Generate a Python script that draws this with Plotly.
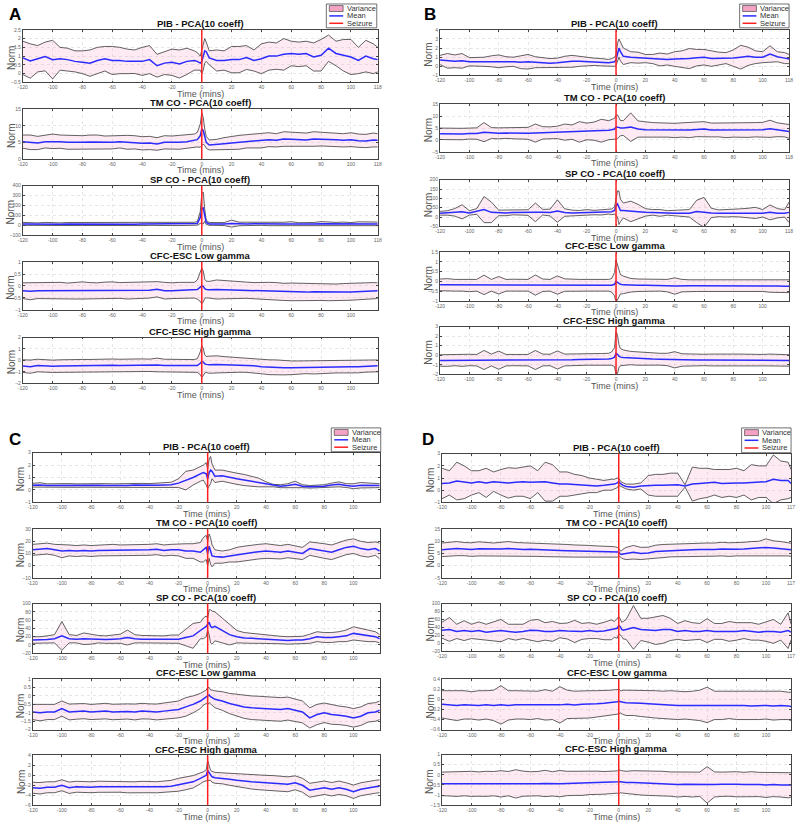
import plotly.graph_objects as go

W, H = 800, 826

# ---------------- time axes (minutes) ----------------
T_PRE = [-120, -115, -110, -105, -100, -95, -90, -85, -80, -75, -70, -65,
         -60, -55, -50, -45, -40, -35, -30, -25, -20, -15, -10, -5]
T_MID = [-3, -1, 0, 1, 2, 3]
T_POST_ABC = [5, 10, 15, 20, 25, 30, 35, 40, 45, 50, 55, 60,
              65, 70, 75, 80, 85, 90, 95, 100, 105, 110, 115, 118]
T_POST_D = [5, 10, 15, 20, 25, 30, 35, 40, 45, 50, 55, 60,
            65, 70, 75, 80, 85, 90, 95, 100, 105, 110, 115, 117]
TIME_ABC = T_PRE + T_MID + T_POST_ABC
TIME_D = T_PRE + T_MID + T_POST_D

TITLES = ["PIB - PCA(10 coeff)", "TM CO - PCA(10 coeff)", "SP CO - PCA(10 coeff)",
          "CFC-ESC Low gamma", "CFC-ESC High gamma"]
LEGEND_LABELS = ["Variance", "Mean", "Seizure"]
X_TICKS = [-120, -100, -80, -60, -40, -20, 0, 20, 40, 60, 80, 100]

# ---------------- Panel A ----------------
A_PIB_mean = [0.9, 0.72, 0.85, 0.98, 0.8, 0.85, 0.8, 0.7, 0.65, 0.6, 0.75, 0.85, 0.75, 0.75, 0.7, 0.68, 0.7, 0.8, 0.45, 0.6, 0.65, 0.55, 0.7, 0.75,
              0.7, 0.6, 0.7, 1.0, 1.3, 1.25,
              0.9, 0.75, 0.75, 0.8, 0.8, 0.92, 0.75, 0.85, 1.0, 1.0, 1.1, 1.15, 1.1, 1.15, 0.95, 1.05, 1.45, 1.15, 1.05, 0.95, 0.75, 1.0, 0.85, 0.8]
A_PIB_sd = [0.95, 0.98, 0.75, 0.82, 1.1, 0.65, 0.65, 0.6, 0.65, 0.75, 0.75, 0.7, 0.8, 0.75, 0.7, 0.67, 0.8, 0.8, 0.65, 0.65, 0.75, 0.8, 0.75, 0.55,
            0.5, 0.4, 0.7, 0.8, 0.7, 0.55,
            0.4, 0.6, 0.55, 0.75, 0.75, 0.68, 0.6, 0.85, 0.8, 0.75, 0.9, 0.7, 0.7, 0.7, 0.8, 0.9, 0.75, 0.7, 0.9, 1.0, 0.75, 0.9, 0.85, 0.7]
A_TM_mean = [5.2, 5.0, 4.8, 5.2, 5.3, 5.2, 5.0, 4.9, 5.0, 5.1, 5.0, 4.9, 5.0, 5.2, 5.0, 5.0, 4.7, 4.8, 4.5, 5.0, 4.9, 5.0, 5.2, 5.5,
             5.8, 7.0, 9.0, 8.5, 6.5, 5.0,
             4.2, 4.3, 4.6, 4.8, 5.0, 5.3, 5.5, 5.5, 5.8, 5.6, 6.0, 5.9, 5.8, 5.7, 6.0, 6.0, 5.9, 5.8, 5.6, 5.8, 5.5, 5.4, 5.7, 5.6]
A_TM_sd = [2.0, 2.2, 2.0, 1.9, 2.2, 2.0, 2.1, 2.0, 2.0, 2.1, 2.2, 2.0, 2.0, 1.9, 2.1, 2.0, 2.0, 2.0, 1.9, 2.0, 2.0, 2.1, 2.0, 2.0,
           2.2, 3.5, 5.0, 4.0, 2.5, 1.8,
           1.5, 1.6, 1.8, 2.0, 2.1, 2.0, 2.1, 2.2, 2.1, 2.0, 2.2, 2.1, 2.0, 2.1, 2.2, 2.1, 2.0, 2.1, 2.0, 2.1, 2.0, 2.0, 2.1, 2.0]
A_SP_mean = [15, 13, 12, 14, 13, 12, 14, 13, 12, 14, 15, 13, 12, 14, 13, 12, 13, 14, 12, 13, 14, 12, 13, 15,
             20, 80, 170, 175, 100, 30,
             15, 12, 13, 18, 14, 15, 16, 14, 13, 15, 14, 15, 12, 14, 13, 16, 15, 14, 15, 13, 16, 15, 14, 15]
A_SP_sd = [15, 14, 13, 16, 14, 13, 15, 16, 14, 15, 17, 15, 14, 15, 14, 16, 15, 14, 15, 15, 16, 14, 15, 16,
           18, 60, 150, 160, 60, 20,
           14, 13, 15, 35, 18, 17, 15, 14, 16, 18, 17, 22, 15, 14, 16, 22, 18, 16, 18, 15, 20, 17, 16, 18]
A_LG_mean = [-0.2, -0.22, -0.2, -0.2, -0.19, -0.2, -0.21, -0.2, -0.19, -0.2, -0.2, -0.19, -0.18, -0.19, -0.2, -0.2, -0.19, -0.18, -0.14, -0.2, -0.2, -0.19, -0.18, -0.18,
             -0.15, -0.05, 0.0, -0.02, -0.12, -0.15,
             -0.16, -0.15, -0.16, -0.17, -0.17, -0.18, -0.2, -0.2, -0.22, -0.24, -0.25, -0.25, -0.25, -0.26, -0.24, -0.25, -0.26, -0.27, -0.26, -0.25, -0.24, -0.22, -0.2, -0.2]
A_LG_sd = [0.33, 0.36, 0.33, 0.34, 0.36, 0.35, 0.33, 0.35, 0.36, 0.34, 0.33, 0.35, 0.35, 0.33, 0.35, 0.34, 0.34, 0.33, 0.32, 0.35, 0.33, 0.34, 0.34, 0.33,
           0.4, 0.6, 0.75, 0.65, 0.4, 0.35,
           0.35, 0.4, 0.38, 0.36, 0.35, 0.34, 0.34, 0.36, 0.37, 0.38, 0.36, 0.37, 0.36, 0.36, 0.35, 0.36, 0.36, 0.35, 0.36, 0.35, 0.34, 0.35, 0.34, 0.33]
A_HG_mean = [-0.5, -0.55, -0.45, -0.5, -0.52, -0.5, -0.48, -0.5, -0.49, -0.47, -0.45, -0.44, -0.42, -0.45, -0.43, -0.44, -0.42, -0.43, -0.4, -0.45, -0.46, -0.45, -0.47, -0.48,
             -0.45, -0.25, -0.1, -0.15, -0.3, -0.35,
             -0.38, -0.35, -0.37, -0.4, -0.42, -0.45, -0.48, -0.55, -0.6, -0.62, -0.65, -0.65, -0.63, -0.6, -0.62, -0.6, -0.58, -0.55, -0.56, -0.55, -0.55, -0.5, -0.5, -0.48]
A_HG_sd = [0.55, 0.58, 0.55, 0.56, 0.54, 0.55, 0.56, 0.55, 0.57, 0.55, 0.56, 0.55, 0.54, 0.55, 0.56, 0.55, 0.55, 0.54, 0.6, 0.55, 0.56, 0.55, 0.55, 0.55,
           0.6, 1.0, 1.4, 1.2, 0.8, 0.7,
           0.75, 0.75, 0.7, 0.68, 0.62, 0.6, 0.6, 0.62, 0.65, 0.66, 0.62, 0.6, 0.58, 0.56, 0.57, 0.55, 0.54, 0.55, 0.54, 0.55, 0.54, 0.53, 0.52, 0.52]

# ---------------- Panel B ----------------
B_PIB_mean = [0.7, 0.6, 0.55, 0.6, 0.5, 0.5, 0.5, 0.55, 0.55, 0.5, 0.5, 0.45, 0.5, 0.45, 0.4, 0.35, 0.4, 0.5, 0.55, 0.55, 0.5, 0.5, 0.45, 0.4,
              0.45, 0.5, 0.7, 1.5, 2.0, 1.6,
              1.1, 1.0, 0.95, 0.85, 0.8, 0.75, 0.75, 0.8, 0.8, 0.85, 0.95, 1.0, 0.85, 0.85, 0.9, 0.9, 1.0, 1.1, 1.0, 1.0, 1.35, 1.05, 0.9, 0.8]
B_PIB_sd = [0.5, 0.8, 0.7, 0.8, 0.45, 0.45, 0.5, 0.6, 0.7, 0.55, 0.5, 0.7, 0.8, 0.6, 0.55, 0.5, 0.5, 0.6, 0.65, 0.55, 0.45, 0.4, 0.4, 0.35,
            0.4, 0.5, 0.6, 1.0, 1.0, 1.0,
            0.9, 0.6, 0.6, 0.45, 0.5, 0.7, 0.6, 0.8, 0.9, 1.1, 0.9, 0.85, 0.85, 0.7, 0.6, 0.9, 1.3, 1.0, 0.7, 0.6, 0.9, 0.55, 0.6, 0.5]
B_TM_mean = [2.6, 2.5, 2.6, 2.5, 2.7, 2.7, 3.3, 2.9, 2.8, 2.9, 2.8, 2.8, 2.8, 2.9, 3.0, 3.0, 3.2, 3.3, 3.3, 3.4, 3.6, 3.7, 3.9, 4.1,
             4.3, 4.6, 5.4, 5.5, 5.3, 5.0,
             5.0, 5.4, 4.6, 4.3, 4.3, 4.2, 4.1, 4.0, 4.2, 4.2, 4.4, 4.6, 4.2, 4.2, 4.0, 4.1, 4.0, 4.1, 4.3, 4.3, 4.7, 4.3, 4.0, 3.6]
B_TM_sd = [2.4, 2.4, 2.3, 2.4, 2.3, 2.4, 4.0, 2.3, 2.3, 2.2, 2.3, 2.4, 2.5, 3.8, 2.6, 2.5, 2.6, 3.4, 3.0, 4.3, 3.5, 3.8, 4.8, 4.0,
           4.2, 4.5, 5.0, 5.0, 4.0, 3.2,
           3.1, 6.0, 3.4, 3.2, 3.0, 3.0, 2.9, 3.0, 3.0, 3.2, 3.0, 3.1, 2.9, 2.9, 3.0, 2.9, 3.0, 3.0, 3.0, 3.1, 3.6, 2.9, 2.7, 2.9]
B_SP_mean = [20, 22, 25, 28, 22, 30, 40, 25, 22, 22, 24, 23, 24, 25, 26, 24, 32, 24, 22, 23, 25, 24, 25, 28,
             28, 35, 60, 70, 50, 35,
             35, 30, 28, 25, 25, 22, 22, 20, 22, 20, 30, 25, 22, 20, 20, 20, 22, 22, 22, 20, 25, 20, 20, 25]
B_SP_sd = [10, 12, 20, 38, 12, 15, 70, 55, 15, 15, 12, 14, 15, 50, 15, 18, 60, 20, 15, 12, 15, 12, 14, 12,
           15, 20, 50, 70, 90, 60,
           40, 55, 40, 20, 15, 18, 12, 14, 16, 20, 60, 80, 25, 18, 20, 18, 22, 25, 30, 20, 40, 25, 20, 55]
B_LG_mean = [-0.18, -0.18, -0.2, -0.2, -0.2, -0.2, -0.18, -0.2, -0.2, -0.2, -0.19, -0.2, -0.2, -0.19, -0.2, -0.2, -0.19, -0.19, -0.2, -0.2, -0.2, -0.2, -0.2, -0.2,
             -0.2, -0.15, 0.0, -0.05, -0.12, -0.15,
             -0.18, -0.2, -0.2, -0.2, -0.2, -0.2, -0.22, -0.24, -0.22, -0.22, -0.22, -0.22, -0.22, -0.22, -0.21, -0.21, -0.22, -0.22, -0.23, -0.22, -0.24, -0.24, -0.25, -0.25]
B_LG_sd = [0.3, 0.32, 0.3, 0.3, 0.33, 0.3, 0.5, 0.3, 0.45, 0.3, 0.3, 0.3, 0.3, 0.52, 0.32, 0.3, 0.47, 0.32, 0.3, 0.3, 0.3, 0.3, 0.3, 0.3,
           0.35, 0.6, 1.1, 0.9, 0.7, 0.5,
           0.45, 0.35, 0.32, 0.32, 0.3, 0.3, 0.32, 0.42, 0.32, 0.3, 0.3, 0.3, 0.3, 0.3, 0.3, 0.3, 0.3, 0.3, 0.3, 0.3, 0.32, 0.33, 0.32, 0.33]
B_HG_mean = [-0.55, -0.55, -0.5, -0.52, -0.5, -0.52, -0.5, -0.5, -0.52, -0.52, -0.5, -0.5, -0.52, -0.5, -0.5, -0.5, -0.5, -0.5, -0.48, -0.45, -0.45, -0.45, -0.42, -0.4,
             -0.35, -0.2, 0.2, 0.1, -0.1, -0.2,
             -0.25, -0.3, -0.35, -0.4, -0.4, -0.42, -0.45, -0.48, -0.5, -0.5, -0.5, -0.5, -0.5, -0.5, -0.52, -0.5, -0.5, -0.5, -0.5, -0.52, -0.5, -0.5, -0.55, -0.55]
B_HG_sd = [0.6, 0.62, 0.6, 0.65, 0.6, 0.6, 1.0, 0.62, 0.95, 0.6, 0.6, 0.6, 0.6, 1.0, 0.62, 0.6, 0.95, 0.62, 0.6, 0.6, 0.6, 0.6, 0.6, 0.6,
           0.7, 1.0, 2.3, 2.0, 1.2, 0.9,
           0.8, 0.7, 0.7, 0.65, 0.62, 0.62, 0.65, 0.85, 0.65, 0.62, 0.62, 0.6, 0.62, 0.6, 0.62, 0.62, 0.62, 0.6, 0.62, 0.6, 0.62, 0.62, 0.6, 0.6]

# ---------------- Panel C ----------------
C_PIB_mean = [0.38, 0.4, 0.35, 0.36, 0.35, 0.36, 0.35, 0.36, 0.35, 0.38, 0.36, 0.35, 0.36, 0.36, 0.4, 0.38, 0.36, 0.38, 0.4, 0.42, 0.55, 0.75, 1.0, 1.3,
              1.4, 1.3, 0.9, 1.4, 1.6, 1.5,
              1.1, 1.15, 1.0, 0.9, 0.8, 0.7, 0.6, 0.45, 0.35, 0.3, 0.35, 0.45, 0.3, 0.25, 0.28, 0.3, 0.4, 0.45, 0.35, 0.3, 0.38, 0.35, 0.36, 0.35]
C_PIB_sd = [0.15, 0.18, 0.14, 0.15, 0.14, 0.15, 0.14, 0.14, 0.15, 0.18, 0.15, 0.14, 0.15, 0.15, 0.16, 0.15, 0.15, 0.16, 0.18, 0.2, 0.35, 0.75, 0.6, 0.6,
            0.6, 0.9, 0.8, 1.1, 1.1, 0.6,
            0.5, 0.45, 0.45, 0.45, 0.45, 0.42, 0.35, 0.2, 0.1, 0.12, 0.15, 0.25, 0.12, 0.1, 0.1, 0.12, 0.15, 0.2, 0.15, 0.2, 0.22, 0.2, 0.18, 0.15]
C_TM_mean = [13, 13.5, 14, 13, 12, 12.5, 12, 12.5, 12, 12.5, 12.5, 13, 12.5, 12.5, 13, 13, 13, 13.5, 12.5, 13, 13, 12, 12, 11,
             13, 15, 10, 16, 12, 8,
             7.5, 7, 8, 9, 10, 11, 11.5, 12, 11.5, 11, 12, 11, 10, 14, 13, 12, 11, 13, 15, 16, 14, 13, 14, 12]
C_TM_sd = [4.5, 4.5, 4.5, 4.5, 5.5, 4.5, 4.5, 4.5, 4.5, 4.5, 4.5, 4.5, 4.5, 4.5, 4.5, 4.5, 4.5, 4.5, 4.5, 4.5, 5, 6, 6, 8,
           10, 10, 10, 10, 11, 9,
           5.5, 5, 5, 6, 6, 6, 6, 6, 5.5, 5.5, 5.5, 5.5, 5, 5.5, 6, 6, 6, 6, 6, 6, 6, 6, 5.5, 6.5]
C_SP_mean = [12, 12, 13, 15, 22, 15, 14, 15, 14, 14, 13, 14, 15, 18, 15, 14, 14, 14, 13, 14, 14, 18, 22, 35,
             40, 45, 50, 55, 45, 42,
             45, 35, 25, 20, 17, 16, 15, 14, 13, 12, 11, 12, 12, 15, 20, 18, 18, 20, 22, 28, 25, 22, 20, 15]
C_SP_sd = [8, 8, 9, 10, 35, 10, 9, 14, 12, 9, 9, 10, 11, 18, 10, 9, 9, 9, 9, 10, 10, 20, 30, 20,
           25, 25, 15, 30, 40, 40,
           35, 30, 25, 15, 13, 12, 11, 10, 10, 9, 9, 9, 9, 11, 12, 12, 12, 12, 14, 16, 15, 14, 12, 10]
C_LG_mean = [-0.95, -1.0, -0.95, -0.95, -0.75, -0.95, -0.92, -0.9, -0.95, -0.92, -0.9, -0.95, -0.92, -0.92, -0.95, -0.9, -0.92, -0.95, -0.9, -0.85, -0.8, -0.65, -0.5, -0.3,
             -0.15, -0.05, 0.0, 0.05, -0.05, -0.1,
             -0.2, -0.3, -0.45, -0.55, -0.65, -0.7, -0.72, -0.75, -0.78, -0.8, -0.75, -0.85, -0.95, -1.3, -1.1, -1.0, -1.1, -1.15, -1.2, -1.3, -1.2, -1.0, -0.95, -0.85]
C_LG_sd = [0.45, 0.48, 0.45, 0.45, 0.45, 0.47, 0.46, 0.45, 0.45, 0.47, 0.46, 0.46, 0.45, 0.45, 0.47, 0.46, 0.45, 0.47, 0.48, 0.5, 0.5, 0.55, 0.5, 0.45,
           0.4, 0.4, 0.5, 0.45, 0.4, 0.45,
           0.5, 0.55, 0.6, 0.65, 0.68, 0.7, 0.7, 0.7, 0.68, 0.7, 0.68, 0.65, 0.65, 0.6, 0.6, 0.58, 0.58, 0.55, 0.55, 0.55, 0.55, 0.55, 0.55, 0.55]
C_HG_mean = [-2.5, -2.6, -2.4, -2.4, -2.0, -2.5, -2.3, -2.4, -2.4, -2.3, -2.3, -2.4, -2.3, -2.4, -2.4, -2.3, -2.4, -2.4, -2.3, -2.2, -1.9, -1.6, -1.3, -0.6,
             -0.3, 0.0, 1.0, 0.5, 0.0, -0.3,
             -0.5, -0.6, -0.8, -1.0, -1.2, -1.3, -1.4, -1.5, -1.55, -1.6, -1.8, -1.5, -2.0, -3.0, -2.7, -2.5, -2.8, -2.5, -2.8, -3.3, -2.8, -2.5, -2.3, -2.2]
C_HG_sd = [1.1, 1.15, 1.1, 1.1, 1.1, 1.15, 1.1, 1.1, 1.1, 1.12, 1.1, 1.1, 1.1, 1.12, 1.1, 1.1, 1.1, 1.12, 1.15, 1.2, 1.3, 1.3, 1.25, 1.1,
           1.0, 1.1, 2.0, 1.5, 1.0, 1.1,
           1.1, 1.1, 1.2, 1.3, 1.4, 1.45, 1.5, 1.5, 1.5, 1.5, 1.5, 1.4, 1.4, 1.4, 1.35, 1.35, 1.35, 1.35, 1.3, 1.35, 1.3, 1.3, 1.3, 1.3]

# ---------------- Panel D ----------------
D_PIB_mean = [0.55, 0.6, 0.75, 0.65, 0.6, 0.7, 0.6, 0.7, 0.65, 0.6, 0.65, 0.7, 0.65, 0.7, 0.7, 0.6, 0.5, 0.5, 0.45, 0.45, 0.4, 0.35, 0.4, 0.45,
              0.5, 0.6, 0.7, 0.55, 0.45, 0.4,
              0.3, 0.25, 0.35, 0.4, 0.4, 0.4, 0.45, 0.45, 0.35, 0.5, 0.55, 0.6, 0.65, 0.55, 0.6, 0.6, 0.6, 0.65, 0.7, 0.7, 0.9, 0.8, 0.8, 0.55]
D_PIB_sd = [1.25, 1.0, 1.55, 1.35, 1.0, 0.9, 1.2, 0.8, 1.05, 1.25, 1.15, 1.2, 1.35, 0.9, 1.6, 1.5, 1.0, 1.0, 0.85, 0.75, 0.6, 0.55, 0.4, 0.45,
            0.4, 0.4, 0.3, 0.2, 0.2, 0.2,
            0.2, 0.25, 0.25, 0.8, 0.9, 0.9, 0.95, 0.95, 0.1, 1.4, 1.25, 1.2, 1.05, 1.15, 1.1, 1.2, 1.0, 1.45, 1.3, 1.3, 2.0, 1.6, 1.5, 1.15]
D_TM_mean = [6.5, 6.8, 7.0, 6.8, 6.6, 6.9, 6.8, 6.6, 6.8, 7.0, 6.7, 6.6, 6.7, 6.5, 6.4, 6.3, 6.2, 6.1, 6.0, 6.0, 5.9, 5.8, 5.8, 5.7,
             5.6, 5.5, 5.6, 4.8, 4.6, 4.8,
             5.0, 5.5, 5.0, 5.2, 5.8, 6.0, 6.2, 6.4, 6.4, 6.5, 6.6, 6.5, 6.6, 6.8, 6.6, 6.7, 6.8, 7.0, 7.0, 7.5, 7.2, 7.0, 6.8, 6.5]
D_TM_sd = [2.8, 2.8, 2.9, 2.7, 2.8, 2.9, 2.8, 2.7, 2.8, 2.9, 2.8, 2.8, 2.8, 2.7, 2.7, 2.7, 2.6, 2.6, 2.5, 2.5, 2.4, 2.3, 2.3, 2.2,
           2.2, 2.0, 1.5, 1.3, 1.5, 2.0,
           2.5, 2.8, 2.5, 2.4, 2.6, 2.7, 2.6, 2.8, 2.8, 2.7, 2.8, 2.8, 2.7, 2.8, 2.8, 2.7, 2.8, 2.9, 3.0, 3.5, 3.0, 2.9, 2.8, 2.7]
D_SP_mean = [33, 35, 30, 32, 30, 32, 28, 30, 32, 30, 28, 30, 33, 32, 30, 30, 32, 31, 30, 30, 32, 30, 31, 34,
             35, 38, 45, 42, 35, 33,
             35, 40, 35, 33, 32, 35, 35, 30, 32, 30, 30, 32, 30, 30, 30, 30, 32, 30, 28, 30, 30, 28, 32, 28]
D_SP_sd = [20, 30, 18, 25, 18, 22, 20, 24, 28, 18, 20, 18, 25, 28, 22, 25, 18, 20, 28, 20, 20, 18, 22, 25,
           20, 25, 22, 20, 18, 22,
           25, 55, 28, 30, 35, 35, 28, 20, 25, 22, 20, 30, 20, 20, 25, 22, 20, 22, 20, 25, 30, 20, 45, 20]
D_LG_mean = [-0.1, -0.11, -0.12, -0.11, -0.12, -0.12, -0.11, -0.12, -0.11, -0.12, -0.11, -0.11, -0.12, -0.11, -0.11, -0.12, -0.11, -0.1, -0.11, -0.1, -0.1, -0.09, -0.08, -0.07,
             -0.06, -0.05, -0.04, -0.05, -0.06, -0.06,
             -0.07, -0.07, -0.08, -0.09, -0.1, -0.11, -0.11, -0.12, -0.12, -0.12, -0.12, -0.11, -0.12, -0.12, -0.11, -0.12, -0.12, -0.13, -0.12, -0.12, -0.13, -0.12, -0.13, -0.14]
D_LG_sd = [0.27, 0.28, 0.3, 0.28, 0.27, 0.29, 0.28, 0.3, 0.38, 0.29, 0.28, 0.28, 0.28, 0.27, 0.3, 0.28, 0.36, 0.28, 0.27, 0.27, 0.27, 0.26, 0.25, 0.25,
           0.25, 0.24, 0.25, 0.22, 0.23, 0.24,
           0.25, 0.25, 0.26, 0.27, 0.27, 0.27, 0.28, 0.28, 0.27, 0.28, 0.3, 0.35, 0.28, 0.28, 0.27, 0.28, 0.28, 0.28, 0.28, 0.27, 0.28, 0.28, 0.27, 0.28]
D_HG_mean = [-0.45, -0.46, -0.45, -0.44, -0.45, -0.46, -0.45, -0.44, -0.45, -0.44, -0.45, -0.44, -0.45, -0.44, -0.43, -0.45, -0.44, -0.43, -0.42, -0.42, -0.4, -0.4, -0.4, -0.38,
             -0.37, -0.36, -0.35, -0.34, -0.35, -0.36,
             -0.38, -0.38, -0.4, -0.42, -0.43, -0.45, -0.46, -0.48, -0.47, -0.48, -0.47, -0.5, -0.48, -0.47, -0.46, -0.47, -0.48, -0.47, -0.48, -0.5, -0.48, -0.5, -0.52, -0.5]
D_HG_sd = [0.58, 0.6, 0.62, 0.6, 0.62, 0.6, 0.62, 0.6, 0.65, 0.6, 0.7, 0.62, 0.6, 0.6, 0.65, 0.6, 0.65, 0.6, 0.6, 0.6, 0.58, 0.58, 0.56, 0.55,
           0.55, 0.55, 0.6, 0.55, 0.55, 0.55,
           0.55, 0.58, 0.6, 0.6, 0.6, 0.62, 0.6, 0.62, 0.6, 0.62, 0.6, 0.9, 0.62, 0.6, 0.6, 0.62, 0.6, 0.62, 0.6, 0.62, 0.6, 0.6, 0.62, 0.6]

# ---------------- layout description ----------------
PANELS = {
    "A": dict(time=TIME_ABC, xmax=118, left=18, right=377,
              rows=[(27, 80), (107, 157), (184, 234), (261, 309), (337, 383)],
              last_label=[True, True, True, False, False],
              letter=(10, 12), legend=(325, 1, 376, 25)),
    "B": dict(time=TIME_ABC, xmax=118, left=440, right=793,
              rows=[(27, 73), (102, 150), (178, 225), (251, 300), (326, 374)],
              last_label=[True, True, True, False, False],
              letter=(430, 12), legend=(743, 1, 793, 25)),
    "C": dict(time=TIME_ABC, xmax=118, left=28, right=379,
              rows=[(453, 503), (530, 579), (605, 655), (681, 732), (758, 808)],
              last_label=[False, False, False, False, False],
              letter=(10, 440), legend=(330, 428, 380, 452)),
    "D": dict(time=TIME_D, xmax=117, left=442, right=795,
              rows=[(454, 503), (530, 579), (605, 653), (681, 732), (757, 808)],
              last_label=[True, True, True, False, False],
              letter=(428, 440), legend=(745, 428, 795, 453)),
}

SERIES = {
    "A": [(A_PIB_mean, A_PIB_sd, [-0.5, 2.5], 0.5), (A_TM_mean, A_TM_sd, [0, 15], 5),
          (A_SP_mean, A_SP_sd, [-100, 400], 100), (A_LG_mean, A_LG_sd, [-1, 1], 0.5),
          (A_HG_mean, A_HG_sd, [-2, 2], 1)],
    "B": [(B_PIB_mean, B_PIB_sd, [-1, 4], 1), (B_TM_mean, B_TM_sd, [-5, 15], 5),
          (B_SP_mean, B_SP_sd, [-50, 200], 50), (B_LG_mean, B_LG_sd, [-1, 1.5], 0.5),
          (B_HG_mean, B_HG_sd, [-2, 3], 1)],
    "C": [(C_PIB_mean, C_PIB_sd, [-1, 3], 1), (C_TM_mean, C_TM_sd, [-10, 30], 10),
          (C_SP_mean, C_SP_sd, [-20, 100], 20), (C_LG_mean, C_LG_sd, [-2, 1], 0.5),
          (C_HG_mean, C_HG_sd, [-6, 4], 2)],
    "D": [(D_PIB_mean, D_PIB_sd, [-1, 3], 1), (D_TM_mean, D_TM_sd, [-5, 15], 5),
          (D_SP_mean, D_SP_sd, [-20, 100], 20), (D_LG_mean, D_LG_sd, [-0.6, 0.4], 0.2),
          (D_HG_mean, D_HG_sd, [-1.5, 1], 0.5)],
}

FONT = "Liberation Sans, Arial, sans-serif"
C_MEAN = "#2b2bff"
C_BOUND = "#3a3a3a"
C_FILL = "rgba(245,160,195,0.22)"
C_SEIZ = "#ff1f1f"
C_SWATCH = "#f3a3c4"
C_GRID = "#e6e6e6"


def px(x):
    return x / W


def py(y):
    return 1 - y / H


fig = go.Figure()
axes = {}
shapes = []
annotations = []
n = 0
for key in ["A", "B", "C", "D"]:
    P = PANELS[key]
    time = P["time"]
    for r, (mean, sd, yr, dt) in enumerate(SERIES[key]):
        if len(mean) != len(time) or len(sd) != len(time):
            raise ValueError(f"{key} row {r}: len mean {len(mean)} sd {len(sd)} time {len(time)}")
        n += 1
        s = "" if n == 1 else str(n)
        top, bot = P["rows"][r]
        upper = [m + d for m, d in zip(mean, sd)]
        lower = [m - d for m, d in zip(mean, sd)]
        common = dict(x=time, xaxis="x" + s, yaxis="y" + s, mode="lines",
                      showlegend=False, hoverinfo="skip")
        fig.add_trace(go.Scatter(y=lower, line=dict(color=C_BOUND, width=0.8), **common))
        fig.add_trace(go.Scatter(y=upper, line=dict(color=C_BOUND, width=0.8),
                                 fill="tonexty", fillcolor=C_FILL, **common))
        fig.add_trace(go.Scatter(y=mean, line=dict(color=C_MEAN, width=1.5), **common))

        tv = list(X_TICKS)
        if P["last_label"][r]:
            tv = tv + [P["xmax"]]
        axes["xaxis" + s] = dict(
            domain=[px(P["left"]), px(P["right"])], anchor="y" + s,
            range=[-120, P["xmax"]], tickvals=tv, ticktext=[str(v) for v in tv],
            showgrid=True, gridcolor=C_GRID, griddash="dot", gridwidth=0.7,
            showline=True, linecolor="#444", linewidth=0.8, mirror="ticks",
            ticks="inside", ticklen=2, tickcolor="#444", zeroline=False,
            tickfont=dict(size=5, color="#666", family=FONT))
        axes["yaxis" + s] = dict(
            domain=[py(bot), py(top)], anchor="x" + s, range=yr,
            tick0=yr[0], dtick=dt,
            showgrid=True, gridcolor=C_GRID, griddash="dot", gridwidth=0.7,
            showline=True, linecolor="#444", linewidth=0.8, mirror="ticks",
            ticks="inside", ticklen=2, tickcolor="#444", zeroline=False,
            tickfont=dict(size=5, color="#666", family=FONT))
        shapes.append(dict(type="line", xref="x" + s, yref="y" + s + " domain",
                           x0=0, x1=0, y0=0, y1=1, layer="above",
                           line=dict(color=C_SEIZ, width=1.5)))
        cx = (P["left"] + P["right"]) / 2
        annotations.append(dict(text="<b>" + TITLES[r] + "</b>", x=px(cx), y=py(top - 6.5),
                                xref="paper", yref="paper", showarrow=False,
                                font=dict(size=9.5, color="#111", family=FONT),
                                xanchor="center", yanchor="middle"))
        annotations.append(dict(text="Time (mins)", x=px(cx), y=py(bot + 11.5),
                                xref="paper", yref="paper", showarrow=False,
                                font=dict(size=9, color="#555", family=FONT),
                                xanchor="center", yanchor="middle"))
        annotations.append(dict(text="Norm", x=px(P["left"] - 12), y=py((top + bot) / 2 + 2),
                                xref="paper", yref="paper", showarrow=False, textangle=-90,
                                font=dict(size=10, color="#555", family=FONT),
                                xanchor="center", yanchor="middle"))

    # panel letter
    lx, ly = P["letter"]
    annotations.append(dict(text="<b>" + key + "</b>", x=px(lx), y=py(ly), xref="paper",
                            yref="paper", showarrow=False,
                            font=dict(size=17, color="#000", family=FONT),
                            xanchor="center", yanchor="middle"))
    # legend box
    bx0, by0, bx1, by1 = P["legend"]
    shapes.append(dict(type="rect", xref="paper", yref="paper", x0=px(bx0), x1=px(bx1),
                       y0=py(by1), y1=py(by0), line=dict(color="#333", width=0.7),
                       fillcolor="white", layer="above"))
    hgt = by1 - by0
    rows_y = [by0 + hgt * 0.19, by0 + hgt * 0.5, by0 + hgt * 0.81]
    shapes.append(dict(type="rect", xref="paper", yref="paper", x0=px(bx0 + 3), x1=px(bx0 + 17),
                       y0=py(rows_y[0] + 3), y1=py(rows_y[0] - 3),
                       line=dict(color="#333", width=0.6), fillcolor=C_SWATCH, layer="above"))
    shapes.append(dict(type="line", xref="paper", yref="paper", x0=px(bx0 + 3), x1=px(bx0 + 17),
                       y0=py(rows_y[1]), y1=py(rows_y[1]),
                       line=dict(color=C_MEAN, width=1.5), layer="above"))
    shapes.append(dict(type="line", xref="paper", yref="paper", x0=px(bx0 + 3), x1=px(bx0 + 17),
                       y0=py(rows_y[2]), y1=py(rows_y[2]),
                       line=dict(color=C_SEIZ, width=1.5), layer="above"))
    for lab, yy in zip(LEGEND_LABELS, rows_y):
        annotations.append(dict(text=lab, x=px(bx0 + 19), y=py(yy), xref="paper", yref="paper",
                                showarrow=False, xanchor="left", yanchor="middle",
                                font=dict(size=7.5, color="#333", family=FONT)))

fig.update_layout(width=W, height=H, margin=dict(l=0, r=0, t=0, b=0),
                  paper_bgcolor="white", plot_bgcolor="white",
                  shapes=shapes, annotations=annotations, showlegend=False,
                  font=dict(family=FONT), **axes)

fig.write_html("out.html", config={"displayModeBar": False},
               post_script="document.body.style.margin='0px';"
                           "document.body.style.overflow='hidden';")
